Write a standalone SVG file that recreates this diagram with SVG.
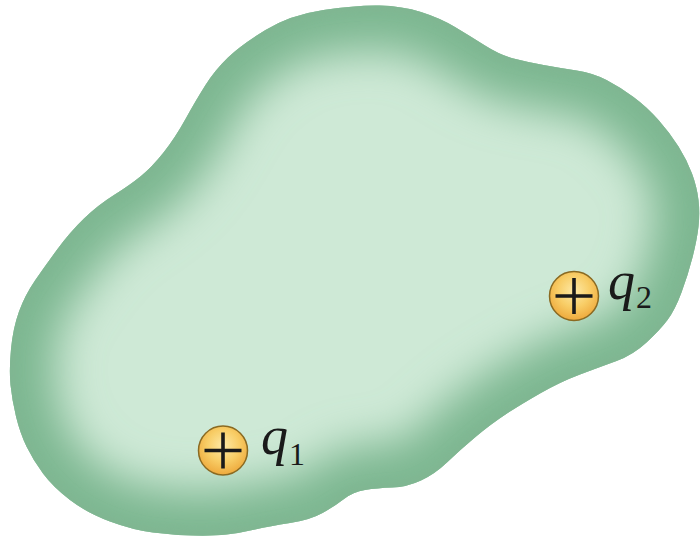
<svg xmlns="http://www.w3.org/2000/svg" xmlns:xlink="http://www.w3.org/1999/xlink" width="700" height="539" viewBox="0 0 700 539">
  <style>
    .lbl { font-family: "Liberation Serif", "DejaVu Serif", serif; fill: #1a1a1a; }
    .q { font-style: italic; font-size: 54px; }
    .sub { font-size: 32px; }
    .ring { fill: url(#chargeFill); stroke: #8a6a22; stroke-width: 1.5; }
    .plus { stroke: #1a1a1a; stroke-width: 3.6; stroke-linecap: butt; fill: none; }
  </style>
  <defs>
    <path id="blob" d="M 265.5,30 Q 290,15 323.5,10 Q 357,5 379.5,5.5 Q 402,6 421,12 Q 440,18 455,27 Q 470,36 485,45.5 Q 500,55 513.5,58.5 Q 527,62 543.5,65 Q 560,68 576.5,70.5 Q 593,73 606.5,80 Q 620,87 633.5,97 Q 647,107 658.5,120 Q 670,133 678.5,146.5 Q 687,160 692,173.5 Q 697,187 698.5,200 Q 700,213 698.5,226.5 Q 697,240 692.5,257.5 Q 688,275 681.5,292.5 Q 675,310 667.5,320 Q 660,330 646.5,342.5 Q 633,355 616.5,361 Q 600,367 580,374.5 Q 560,382 540,393.5 Q 520,405 505.5,414.5 Q 491,424 475.5,437 Q 460,450 447.5,462 Q 435,474 421,480.5 Q 407,487 392,487.5 Q 377,488 365,490 Q 353,492 344,499 Q 335,506 322.5,513 Q 310,520 290,523 Q 270,526 255,529.5 Q 240,533 226.5,534.5 Q 213,536 193,535.5 Q 173,535 153,532.5 Q 133,530 110,521.5 Q 87,513 70,500 Q 53,487 43,473.5 Q 33,460 26.5,446.5 Q 20,433 16,416.5 Q 12,400 10.5,385 Q 9,370 11,349 Q 13,328 19,311.5 Q 25,295 35,280.5 Q 45,266 57.5,249 Q 70,232 84,218.5 Q 98,205 114,195 Q 130,185 141,176 Q 152,167 163.5,152.5 Q 175,138 185.5,119 Q 196,100 205.5,85 Q 215,70 228,57.5 Q 241,45 265.5,30 Z"/>
    <clipPath id="blobClip"><use xlink:href="#blob"/></clipPath>
    <filter id="soft" x="-20%" y="-20%" width="140%" height="140%">
      <feGaussianBlur stdDeviation="22"/>
    </filter>
    <filter id="soft2" x="-20%" y="-20%" width="140%" height="140%">
      <feGaussianBlur stdDeviation="4"/>
    </filter>
    <radialGradient id="chargeFill" cx="0.5" cy="0.4" r="0.6">
      <stop offset="0" stop-color="#fde9a6"/>
      <stop offset="0.55" stop-color="#f8cd66"/>
      <stop offset="1" stop-color="#eea93c"/>
    </radialGradient>
  </defs>

  <g id="region">
    <g clip-path="url(#blobClip)">
      <rect x="0" y="0" width="700" height="539" fill="#cee9d6"/>
      <use xlink:href="#blob" fill="none" stroke="#7db791" stroke-width="90" filter="url(#soft)"/>
      <use xlink:href="#blob" fill="none" stroke="#80b692" stroke-width="10" filter="url(#soft2)"/>
    </g>
  </g>

  <g id="charge-q1">
    <circle class="ring" cx="223" cy="450.5" r="24.5"/>
    <path class="plus" d="M 204.5,450.5 H 241.5 M 223,432.5 V 468.5"/>
    <text class="lbl" x="261" y="454"><tspan class="q">q</tspan><tspan class="sub" x="289" y="465">1</tspan></text>
  </g>

  <g id="charge-q2">
    <circle class="ring" cx="574" cy="296" r="24.5"/>
    <path class="plus" d="M 555.5,296 H 592.5 M 574,278 V 314"/>
    <text class="lbl" x="608" y="299"><tspan class="q">q</tspan><tspan class="sub" x="636" y="308">2</tspan></text>
  </g>
</svg>
